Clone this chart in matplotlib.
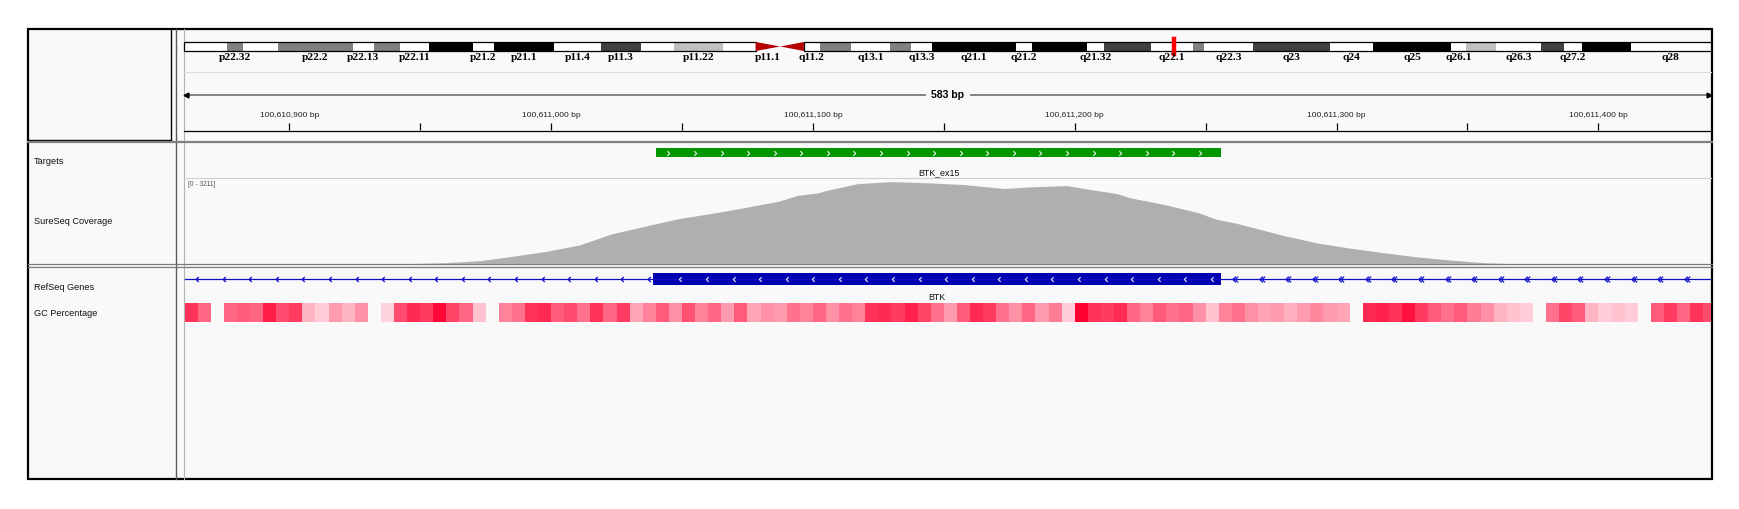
import numpy as np
import matplotlib.pyplot as plt
from matplotlib.colors import LinearSegmentedColormap
from matplotlib.patches import Rectangle, Polygon
from matplotlib.path import Path

plt.rcParams['font.family'] = ['Liberation Sans', 'DejaVu Sans']

# --- chrX cytobands (hg19, Mb) ---
chrom_len = 155.27
band_names = ["p22.33", "p22.32", "p22.31", "p22.2", "p22.13", "p22.12", "p22.11", "p21.3", "p21.2", "p21.1",
              "p11.4", "p11.3", "p11.23", "p11.22", "p11.21", "p11.1", "q11.1", "q11.2", "q12", "q13.1",
              "q13.2", "q13.3", "q21.1", "q21.2", "q21.31", "q21.32", "q21.33", "q22.1", "q22.2", "q22.3",
              "q23", "q24", "q25", "q26.1", "q26.2", "q26.3", "q27.1", "q27.2", "q27.3", "q28"]
band_starts = [0.0, 4.3, 6.0, 9.5, 17.1, 19.3, 21.9, 24.9, 29.3, 31.5,
               37.6, 42.4, 46.4, 49.8, 54.8, 58.1, 60.6, 63.0, 64.6, 67.8,
               71.8, 73.9, 76.0, 84.6, 86.2, 91.8, 93.5, 98.3, 102.6, 103.7,
               108.7, 116.5, 120.9, 128.8, 130.4, 133.4, 138.0, 140.3, 142.1, 147.1]
band_ends = band_starts[1:] + [chrom_len]
band_stains = ["gneg", "gpos50", "gneg", "gpos50", "gneg", "gpos50", "gneg", "gpos100", "gneg", "gpos100",
               "gneg", "gpos75", "gneg", "gpos25", "gneg", "acen", "acen", "gneg", "gpos50", "gneg",
               "gpos50", "gneg", "gpos100", "gneg", "gpos100", "gneg", "gpos75", "gneg", "gpos50", "gneg",
               "gpos75", "gneg", "gpos100", "gneg", "gpos25", "gneg", "gpos75", "gneg", "gpos100", "gneg"]
shown_labels = ["p22.32", "p22.2", "p22.13", "p22.11", "p21.2", "p21.1", "p11.4", "p11.3", "p11.22", "p11.1",
                "q11.2", "q13.1", "q13.3", "q21.1", "q21.2", "q21.32", "q22.1", "q22.3", "q23", "q24",
                "q25", "q26.1", "q26.3", "q27.2", "q28"]
locus_mb = 100.611

# --- view ---
view_start, view_end = 100610860, 100611443

# --- Targets ---
target_start, target_end = 100611040, 100611256
target_name = "BTK_ex15"

# --- SureSeq coverage ---
cov_max = 3211
cov_pos = [100610946, 100610960, 100610973, 100610985, 100610998, 100611011, 100611023, 100611036,
           100611049, 100611061, 100611074, 100611087, 100611094, 100611102, 100611105, 100611117,
           100611130, 100611145, 100611158, 100611173, 100611183, 100611197, 100611206, 100611216,
           100611221, 100611234, 100611247, 100611254, 100611262, 100611280, 100611293, 100611305,
           100611318, 100611331, 100611343, 100611356, 100611366]
cov_depth = [0, 37, 112, 272, 459, 709, 1119, 1417,
             1705, 1891, 2115, 2361, 2574, 2674, 2760, 3021,
             3096, 3047, 2984, 2835, 2898, 2947, 2798, 2648,
             2488, 2238, 1928, 1679, 1518, 1056, 772, 586,
             410, 250, 138, 37, 0]

# --- RefSeq gene ---
exon_start, exon_end = 100611039, 100611256
gene_name = "BTK"

# --- GC percentage, 5 bp windows from view_start ---
gc_window = 5
gc_values = [70, 60, np.nan, 60, 62, 60, 75, 65, 68, 45,
             40, 50, 45, 52, np.nan, 38, 65, 72, 68, 80,
             66, 60, 42, np.nan, 55, 58, 70, 72, 62, 65,
             58, 70, 60, 68, 48, 55, 62, 52, 64, 55,
             60, 50, 62, 48, 52, 50, 58, 55, 60, 52,
             58, 55, 70, 72, 68, 74, 66, 58, 50, 62,
             72, 68, 58, 52, 60, 50, 56, 40, 82, 70,
             68, 72, 60, 55, 62, 58, 60, 52, 42, 55,
             58, 52, 48, 50, 46, 50, 54, 50, 48, np.nan,
             72, 74, 70, 78, 68, 62, 58, 62, 56, 52,
             45, 42, 40, np.nan, 58, 66, 62, 45, 40, 42,
             40, np.nan, 62, 68, 60, 70, 65]

track_names = ["Targets", "SureSeq Coverage", "RefSeq Genes", "GC Percentage"]
track_name_y = [161, 222, 287, 313]

stain_colors = {"gneg": "white", "gpos25": "#c0c0c0", "gpos50": "#808080",
                "gpos75": "#404040", "gpos100": "black", "acen": "#b40000"}

W, H = 1740, 509
BG = "#f9f9f9"
DATA_X0, DATA_X1 = 184.5, 1711

fig = plt.figure(figsize=(W / 100, H / 100), dpi=100)
fig.patch.set_facecolor("white")


def add_track(y0, y1, x0=DATA_X0, x1=DATA_X1):
    ax = fig.add_axes([x0 / W, 1 - y1 / H, (x1 - x0) / W, (y1 - y0) / H])
    ax.set_axis_off()
    ax.patch.set_visible(False)
    return ax


# --- panel frame and separators (pixel layout) ---
bg = fig.add_axes([0, 0, 1, 1])
bg.set_xlim(0, W)
bg.set_ylim(H, 0)
bg.set_axis_off()
bg.add_patch(Rectangle((28, 29), 1684, 450, facecolor=BG, edgecolor="black", lw=1.6))
bg.plot([171, 171], [29, 140], color="black", lw=1.0)
bg.plot([28, 171], [140, 140], color="black", lw=1.0)
bg.plot([176, 176], [29, 479], color="#5a5a5a", lw=1.0)
bg.plot([184, 184], [29, 479], color="#b4b4b4", lw=0.8)
bg.plot([184, 1711], [72, 72], color="#dcdcdc", lw=0.8)
bg.plot([184, 1711], [131, 131], color="black", lw=0.9)
bg.plot([28, 1712], [141.5, 141.5], color="#808080", lw=1.6)
bg.plot([184, 1711], [178.3, 178.3], color="#cfcfd8", lw=0.8)
bg.plot([28, 1712], [264.3, 264.3], color="#7a7a7a", lw=0.9)
bg.plot([28, 1712], [267, 267], color="#7a7a7a", lw=0.9)
for name, y in zip(track_names, track_name_y):
    bg.text(34, y, name, fontsize=6.6, va="center", ha="left", color="#111111")

# --- ideogram ---
ideo = add_track(42, 51)
ideo.set_xlim(0, chrom_len)
ideo.set_ylim(0, 1)
acen = [i for i, s in enumerate(band_stains) if s == "acen"]
for s, e, st in zip(band_starts, band_ends, band_stains):
    if st != "acen":
        ideo.barh(0.5, e - s, left=s, height=1, color=stain_colors[st], lw=0)
cen_s, cen_m, cen_e = band_starts[acen[0]], band_ends[acen[0]], band_ends[acen[1]]
ideo.add_patch(Rectangle((0, 0), cen_s, 1, fill=False, ec="black", lw=0.9, clip_on=False))
ideo.add_patch(Rectangle((cen_e, 0), chrom_len - cen_e, 1, fill=False, ec="black", lw=0.9, clip_on=False))
ideo.add_patch(Polygon([(cen_s, 0), (cen_s, 1), (cen_m, 0.5)], color=stain_colors["acen"], lw=0))
ideo.add_patch(Polygon([(cen_e, 0), (cen_e, 1), (cen_m, 0.5)], color=stain_colors["acen"], lw=0))
for name, s, e in zip(band_names, band_starts, band_ends):
    if name in shown_labels:
        ideo.annotate(name, ((s + e) / 2, 0), xytext=(0, -1.2), textcoords="offset points",
                      ha="center", va="top", fontsize=8.2, fontweight="bold",
                      family=["Liberation Serif", "DejaVu Serif"])
ideo.axvline(locus_mb, ymin=-0.3, ymax=1.3, color="red", lw=3.2, clip_on=False)

# --- ruler ---
ruler = add_track(72, 131)
ruler.set_xlim(view_start, view_end)
ruler.set_ylim(131, 72)
ruler.plot([view_start, view_end], [95, 95], color="#707070", lw=1.2)
ruler.plot([view_start + 0.6], [95], marker="<", ms=3.5, color="black", clip_on=False)
ruler.plot([view_end - 0.6], [95], marker=">", ms=3.5, color="black", clip_on=False)
ruler.text((view_start + view_end) / 2, 95, f"{view_end - view_start} bp", ha="center", va="center",
           fontsize=7.6, fontweight="bold", bbox=dict(fc=BG, ec="none", pad=4))
ticks = np.arange(int(np.ceil(view_start / 50.0)) * 50, view_end, 50)
ruler.vlines(ticks, 123, 130, color="black", lw=0.9)
for t in ticks:
    if t % 100 == 0:
        ruler.text(t, 115.5, f"{t:,} bp", ha="center", va="center", fontsize=6.1, color="#222222")

# chevron markers
chev_right = Path([(-0.5, -1), (0.5, 0), (-0.5, 1)], [Path.MOVETO, Path.LINETO, Path.LINETO])
chev_left = Path([(0.5, -1), (-0.5, 0), (0.5, 1)], [Path.MOVETO, Path.LINETO, Path.LINETO])
chev_left2 = Path([(0.1, -1), (-0.9, 0), (0.1, 1), (0.9, -1), (-0.1, 0), (0.9, 1)],
                  [Path.MOVETO, Path.LINETO, Path.LINETO, Path.MOVETO, Path.LINETO, Path.LINETO])
step_bp = 10.15

# --- targets ---
tgt = add_track(142, 178)
tgt.set_xlim(view_start, view_end)
tgt.set_ylim(178, 142)
tgt.barh(152.5, target_end - target_start, left=target_start, height=9, color="#009600", lw=0)
xs = np.arange(target_start + 4.8, target_end - 4, step_bp)
tgt.plot(xs, np.full(len(xs), 152.5), ls="none", marker=chev_right, ms=3.4, mec="#e8f5e8", mew=0.8, mfc="none")
tgt.text((target_start + target_end) / 2, 172.5, target_name, ha="center", va="center", fontsize=6.4,
         color="#111111")

# --- coverage ---
cov = add_track(178.6, 263.6)
cov.set_xlim(view_start, view_end)
cov.set_ylim(0, cov_max)
cov.fill_between(cov_pos, cov_depth, 0, color="#afafaf", lw=0)
cov.text(0.002, 0.93, f"[0 - {cov_max}]", transform=cov.transAxes, fontsize=4.8, color="#555555",
         ha="left", va="center")

# --- RefSeq gene ---
gene = add_track(267, 303)
gene.set_xlim(view_start, view_end)
gene.set_ylim(303, 267)
gene.plot([view_start, view_end], [279, 279], color="#1010c0", lw=0.9)
gene.barh(279, exon_end - exon_start, left=exon_start, height=12, color="#0000b2", lw=0)
xs = np.arange(exon_start + 10.4, exon_end - 3, step_bp)
gene.plot(xs, np.full(len(xs), 279), ls="none", marker=chev_left, ms=3.4, mec="#e8e8ff", mew=0.8, mfc="none")
xs = np.arange(view_start + 4.8, exon_start, step_bp)
gene.plot(xs, np.full(len(xs), 279), ls="none", marker=chev_left, ms=3.6, mec="#1010d0", mew=1.0, mfc="none")
xs = np.arange(exon_end + 5.2, view_end, step_bp)
gene.plot(xs, np.full(len(xs), 279), ls="none", marker=chev_left2, ms=4.2, mec="#1010d0", mew=0.9, mfc="none")
gene.text((exon_start + exon_end) / 2, 297.5, gene_name, ha="center", va="center", fontsize=6.4,
          color="#111111")

# --- GC percentage ---
gc_cmap = LinearSegmentedColormap.from_list(
    "gc", [(0, "#ffffff"), (0.25, "#ffd0da"), (0.5, "#ff8aa0"), (0.75, "#ff3d62"), (1, "#ff0030")])
gc = add_track(303, 322)
gc.set_xlim(view_start, view_end)
gc.set_ylim(0, 1)
edges = view_start + gc_window * np.arange(len(gc_values) + 1)
gc.pcolormesh(edges, [0, 1], np.ma.masked_invalid(np.array(gc_values, dtype=float))[None, :],
              cmap=gc_cmap, vmin=25, vmax=82, shading="flat")

fig.savefig("out.png", dpi=100, facecolor="white")
